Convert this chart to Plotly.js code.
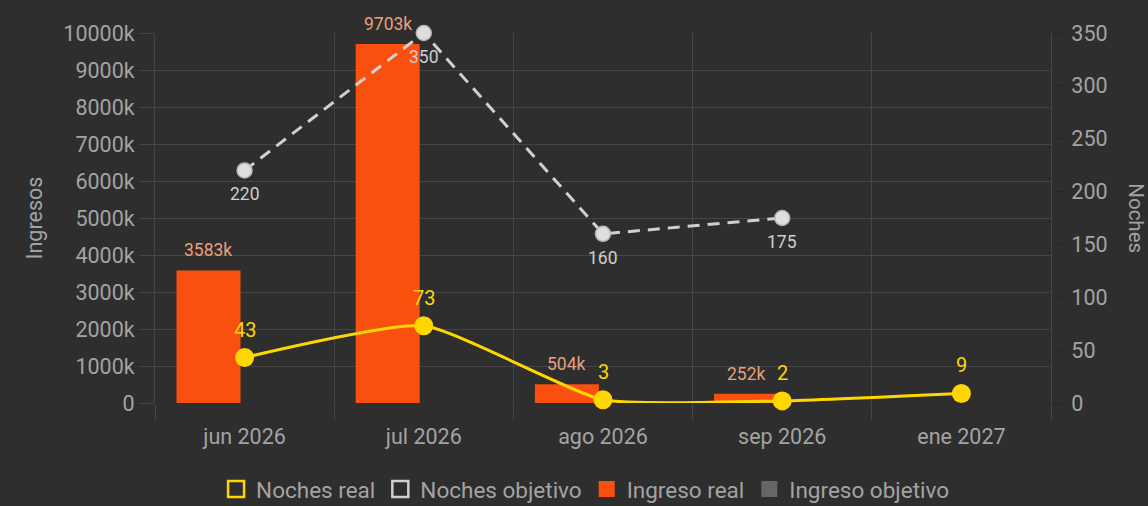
<!DOCTYPE html>
<html>
<head>
<meta charset="utf-8">
<script src="https://cdn.plot.ly/plotly-3.0.1.min.js"></script>
<style>
html,body{margin:0;padding:0;background:#2e2e2e;}
#chart{width:1148px;height:506px;}
</style>
</head>
<body>
<div id="chart"></div>
<script>
// ---- data ----
const meses = ["jun 2026", "jul 2026", "ago 2026", "sep 2026", "ene 2027"];
const ingresoReal = [3583, 9703, 504, 252, null];          // miles (k)
const ingresoObjetivo = [null, null, null, null, null];    // miles (k)
const nochesReal = [43, 73, 3, 2, 9];
const nochesObjetivo = [220, 350, 160, 175, null];
const ingresoTicks = [0, 1000, 2000, 3000, 4000, 5000, 6000, 7000, 8000, 9000, 10000];
const ingresoTickText = ["0", "1000k", "2000k", "3000k", "4000k", "5000k", "6000k", "7000k", "8000k", "9000k", "10000k"];

const FONT = "Roboto, 'Liberation Sans', Arial, sans-serif";
const TXT = "#a3a3a3";
const GRID = "#454545";
const BAR_OFFSET = -0.38, BAR_WIDTH = 0.357;

const traces = [
  {
    type: "bar", name: "Ingreso real", x: meses, y: ingresoReal, yaxis: "y",
    marker: {color: "#fa500f"}, width: BAR_WIDTH, offset: BAR_OFFSET,
    showlegend: false, hoverinfo: "x+y"
  },
  {
    type: "bar", name: "Ingreso objetivo", x: meses, y: ingresoObjetivo, yaxis: "y",
    marker: {color: "#666666"}, width: BAR_WIDTH, offset: 0.02,
    showlegend: false
  },
  {
    type: "scatter", mode: "lines+markers", name: "Noches objetivo",
    x: meses, y: nochesObjetivo, yaxis: "y2",
    line: {color: "#d0d0d0", width: 3, dash: "12px,8px"},
    marker: {size: 15, color: "#dedede", line: {color: "#b5b5b5", width: 1.5}},
    cliponaxis: false, showlegend: false
  },
  {
    type: "scatter", mode: "lines+markers", name: "Noches real",
    x: meses, y: nochesReal, yaxis: "y2",
    line: {color: "#ffd700", width: 3, shape: "spline", smoothing: 0.5},
    marker: {size: 19, color: "#ffd700"},
    cliponaxis: false, showlegend: false
  },
  // legend entries
  {type: "scatter", mode: "markers", name: "Noches real", x: [null], y: [null], yaxis: "y2",
   marker: {symbol: "square-open", size: 22, color: "#ffd700", line: {width: 2.5, color: "#ffd700"}}, showlegend: true, hoverinfo: "skip"},
  {type: "scatter", mode: "markers", name: "Noches objetivo", x: [null], y: [null], yaxis: "y2",
   marker: {symbol: "square-open", size: 22, color: "#cfcfcf", line: {width: 2.5, color: "#cfcfcf"}}, showlegend: true, hoverinfo: "skip"},
  {type: "scatter", mode: "markers", name: "Ingreso real", x: [null], y: [null], yaxis: "y",
   marker: {symbol: "square", size: 22, color: "#fa500f"}, showlegend: true, hoverinfo: "skip"},
  {type: "scatter", mode: "markers", name: "Ingreso objetivo", x: [null], y: [null], yaxis: "y",
   marker: {symbol: "square", size: 22, color: "#666666"}, showlegend: true, hoverinfo: "skip"}
];

// value labels placed through the axes (data coordinates)
const labels = [];
meses.forEach((m, i) => {
  if (ingresoReal[i] != null) {
    labels.push({x: m, y: ingresoReal[i], xref: "x", yref: "y", text: ingresoReal[i] + "k",
      showarrow: false, xshift: (BAR_OFFSET + BAR_WIDTH / 2) * 179.2, yshift: 20,
      font: {size: 17.5, color: "#e8a07c"}});
  }
  if (nochesObjetivo[i] != null) {
    labels.push({x: m, y: nochesObjetivo[i], xref: "x", yref: "y2", text: String(nochesObjetivo[i]),
      showarrow: false, yshift: -24, font: {size: 17.5, color: "#cfcfcf"}});
  }
  if (nochesReal[i] != null) {
    labels.push({x: m, y: nochesReal[i], xref: "x", yref: "y2", text: String(nochesReal[i]),
      showarrow: false, yshift: 28, font: {size: 20, color: "#ffd700"}});
  }
});
labels.push({text: "Noches", xref: "paper", yref: "paper", x: 1.0945, y: 0.5, showarrow: false,
  textangle: 90, borderpad: 0, font: {size: 20.5, color: TXT}, xanchor: "center", yanchor: "middle"});

const layout = {
  width: 1148, height: 506,
  paper_bgcolor: "#2e2e2e", plot_bgcolor: "#2e2e2e",
  font: {family: FONT, color: TXT, size: 21.5},
  margin: {l: 155, r: 97, t: 33, b: 103, autoexpand: false},
  barmode: "overlay",
  xaxis: {
    type: "category", categoryorder: "array", categoryarray: meses,
    range: [-0.5, 4.5], tickson: "boundaries",
    showgrid: true, gridcolor: GRID, gridwidth: 1,
    ticks: "outside", ticklen: 16, tickcolor: GRID,
    ticklabelstandoff: 18,
    tickfont: {size: 21.5, color: TXT}, zeroline: false, showline: false,
    automargin: false
  },
  yaxis: {
    range: [0, 10000], tickvals: ingresoTicks, ticktext: ingresoTickText,
    showgrid: true, gridcolor: GRID, gridwidth: 1,
    ticks: "outside", ticklen: 15, tickcolor: GRID,
    tickfont: {size: 21.5, color: TXT}, zeroline: false,
    showline: true, linecolor: GRID, automargin: false,
    title: {text: "Ingresos", font: {size: 21.5, color: TXT}, standoff: 14}
  },
  yaxis2: {
    range: [0, 350], dtick: 50, overlaying: "y", side: "right",
    showgrid: false, ticks: "outside", ticklen: 15, tickcolor: "#262626",
    tickfont: {size: 21.5, color: TXT}, zeroline: false,
    showline: true, linecolor: GRID, automargin: false
  },
  legend: {
    orientation: "h", x: 0.48, xanchor: "center", y: -0.175, yanchor: "top",
    font: {size: 22.5, color: TXT}, bgcolor: "rgba(0,0,0,0)", itemsizing: "trace",
    traceorder: "normal"
  },
  annotations: labels,
  showlegend: true
};

Plotly.newPlot("chart", traces, layout, {displayModeBar: false, staticPlot: true});
</script>
</body>
</html>
